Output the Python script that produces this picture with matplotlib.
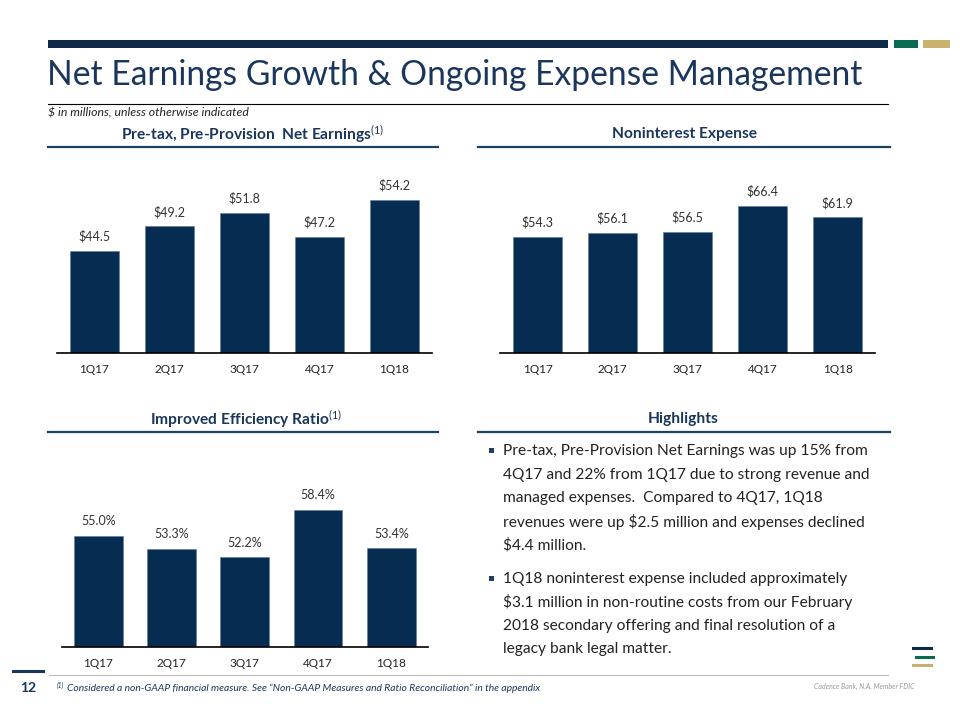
import matplotlib
matplotlib.use("Agg")
import matplotlib.pyplot as plt
from matplotlib.patches import Rectangle

# Data
quarters = ["1Q17", "2Q17", "3Q17", "4Q17", "1Q18"]
pre_tax = [44.5, 49.2, 51.8, 47.2, 54.2]
nonint_exp = [54.3, 56.1, 56.5, 66.4, 61.9]
eff_ratio = [55.0, 53.3, 52.2, 58.4, 53.4]

bullet1 = ["Pre-tax, Pre-Provision Net Earnings was up 15% from",
           "4Q17 and 22% from 1Q17 due to strong revenue and",
           "managed expenses.  Compared to 4Q17, 1Q18",
           "revenues were up $2.5 million and expenses declined",
           "$4.4 million."]
bullet2 = ["1Q18 noninterest expense included approximately",
           "$3.1 million in non-routine costs from our February",
           "2018 secondary offering and final resolution of a",
           "legacy bank legal matter."]

NAVY = "#062C51"
TITLE = "#1B365D"
GREEN = "#0B6B50"
GOLD = "#C9B26E"
FONT = "Lato"

plt.rcParams["font.family"] = [FONT, "DejaVu Sans"]
plt.rcParams["mathtext.fontset"] = "custom"
plt.rcParams["mathtext.rm"] = FONT
plt.rcParams["mathtext.it"] = FONT + ":italic"
plt.rcParams["mathtext.bf"] = FONT + ":bold"

W, H = 960, 720
fig = plt.figure(figsize=(9.6, 7.2), dpi=100)

# background axes in pixel coords for decorations
bg = fig.add_axes([0, 0, 1, 1])
bg.set_xlim(0, W)
bg.set_ylim(H, 0)
bg.axis("off")

# top bars
bg.add_patch(Rectangle((48, 40), 840, 8, color="#0E2A47", lw=0))
bg.add_patch(Rectangle((894, 40), 24, 8, color=GREEN, lw=0))
bg.add_patch(Rectangle((923, 40), 27, 8, color=GOLD, lw=0))

bg.text(47, 75, "Net Earnings Growth & Ongoing Expense Management", fontsize=24.2,
        color=TITLE, va="center", ha="left")
bg.plot([48, 888], [104, 104], color="black", lw=0.8)
bg.text(48, 113, "\\$ in millions, unless otherwise indicated", fontsize=8.8,
        style="italic", color="#222222", va="center")

# section headers
def header(xc, y, label, x0, x1):
    bg.text(xc, y, label, fontsize=11.2, fontweight="bold", color=TITLE,
            ha="center", va="center")
    bg.plot([x0, x1], [y + 13, y + 13], color="#1F3F63", lw=1.6)

header(252, 134, r"Pre-tax, Pre-Provision  Net Earnings$^{(1)}$", 48, 438)
header(684, 134, "Noninterest Expense", 478, 890)
header(246, 419, r"Improved Efficiency Ratio$^{(1)}$", 48, 438)
header(683, 419, "Highlights", 478, 890)


def px_axes(x0, x1, ybot, ytop):
    return fig.add_axes([x0 / W, 1 - ybot / H, (x1 - x0) / W, (ybot - ytop) / H])


def bar_chart(ax, values, ymin, ymax, fmt):
    x = range(len(quarters))
    ax.bar(x, values, width=0.665, color=NAVY, edgecolor="#5E7C9C", linewidth=0.4)
    ax.set_xlim(-0.5, 4.5)
    ax.set_ylim(ymin, ymax)
    for s in ["top", "left", "right"]:
        ax.spines[s].set_visible(False)
    ax.spines["bottom"].set_linewidth(1.2)
    ax.spines["bottom"].set_color("black")
    ax.set_yticks([])
    ax.set_xticks(list(x))
    ax.set_xticklabels(quarters, fontsize=8.5, color="#222222")
    ax.tick_params(axis="x", length=0, pad=8)
    ax.patch.set_alpha(0)
    for i, v in enumerate(values):
        ax.annotate(fmt.format(v), (i, v), xytext=(0, 6), textcoords="offset points",
                    ha="center", va="bottom", fontsize=9, color="#333333")


ax1 = px_axes(57, 432, 352.7, 160)
bar_chart(ax1, pre_tax, 25.05, 61.9, "${:.1f}")

ax2 = px_axes(500, 875, 352.7, 160)
bar_chart(ax2, nonint_exp, 10.1, 83.9, "${:.1f}")

ax3 = px_axes(61.7, 428, 647.3, 450)
bar_chart(ax3, eff_ratio, 40.4, 66.2, "{:.1f}%")

# highlights bullets
for start, lines in [(451, bullet1), (579, bullet2)]:
    y = start
    for i, line in enumerate(lines):
        if i == 0:
            bg.add_patch(Rectangle((488.5, y - 3), 5, 5, color="#1F3F63", lw=0))
        bg.text(503, y, line.replace("$", "\\$"), fontsize=11.2, color="#222222", va="center")
        y += 23.5

# footer
bg.plot([13, 43], [671, 671], color="#1B365D", lw=2.2)
bg.plot([49, 888], [675, 675], color="#BBBBBB", lw=0.8)
bg.text(28, 688, "12", fontsize=10, fontweight="bold", color=TITLE, ha="center", va="center")
bg.text(57, 685, "(1)", fontsize=4.8, style="italic", color=TITLE, va="center")
bg.text(67, 688, "Considered a non-GAAP financial measure. See \u201cNon-GAAP Measures and Ratio Reconciliation\u201d in the appendix",
        fontsize=7.4, style="italic", color=TITLE, va="center")
bg.text(915, 686, "Cadence Bank, N.A. Member FDIC", fontsize=5, style="italic",
        color="#999999", ha="right", va="center")

# logo
bg.plot([913, 931], [648, 648], color="#0E2A47", lw=2.2)
bg.plot([916, 933], [657, 657], color=GREEN, lw=2.2)
bg.plot([913, 931], [665, 665], color=GOLD, lw=2.2)

fig.savefig("out.png", dpi=100)
